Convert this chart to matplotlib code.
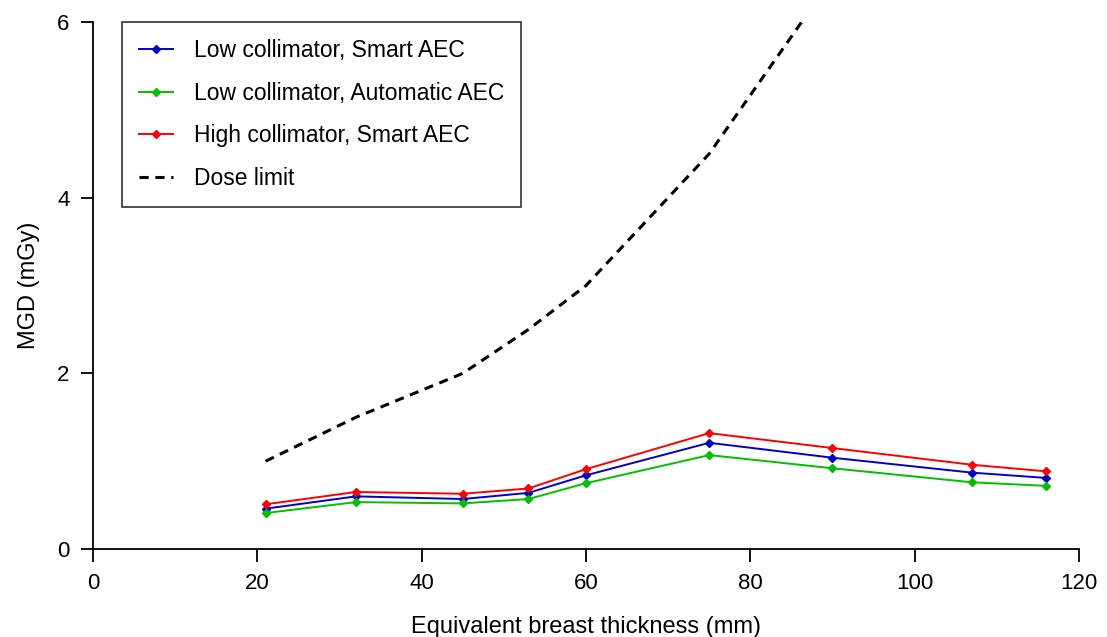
import matplotlib
matplotlib.use("Agg")
import matplotlib.pyplot as plt

plt.rcParams['font.family'] = ['Liberation Sans', 'DejaVu Sans']

# breast thickness (mm)
thickness = [21, 32, 45, 53, 60, 75, 90, 107, 116]
low_smart = [0.46, 0.60, 0.57, 0.64, 0.84, 1.21, 1.04, 0.87, 0.81]
low_auto = [0.41, 0.535, 0.52, 0.57, 0.75, 1.07, 0.92, 0.76, 0.72]
high_smart = [0.51, 0.65, 0.63, 0.69, 0.91, 1.32, 1.15, 0.96, 0.885]

limit_thickness = [21, 32, 45, 53, 60, 75, 90]
dose_limit = [1.0, 1.5, 2.0, 2.5, 3.0, 4.5, 6.5]

fig = plt.figure(figsize=(11.07, 6.37), dpi=100)
ax = fig.add_axes([0.084, 0.138, 0.8907, 0.8275])

mk = dict(marker='D', markersize=4.5, linewidth=1.4)
ax.plot(thickness, low_smart, color='#0000cc', label='Low collimator, Smart AEC', **mk)
ax.plot(thickness, low_auto, color='#00c000', label='Low collimator, Automatic AEC', **mk)
ax.plot(thickness, high_smart, color='#ff0000', label='High collimator, Smart AEC', **mk)
ax.plot(limit_thickness, dose_limit, color='black', linestyle=(0, (3.0, 2.2)),
        linewidth=2.2, label='Dose limit')

ax.set_xlim(0, 120)
ax.set_ylim(0, 6)
ax.set_xticks(range(0, 121, 20))
ax.set_yticks([0, 2, 4, 6])
for s in ['top', 'right']:
    ax.spines[s].set_visible(False)
for s in ['left', 'bottom']:
    ax.spines[s].set_linewidth(1.3)
ax.tick_params(direction='out', length=9, width=1.3, labelsize=16, pad=8)

ax.set_xlabel('Equivalent breast thickness (mm)', fontsize=17, labelpad=16)
ax.set_ylabel('MGD (mGy)', fontsize=17, labelpad=12)

leg = ax.legend(loc='upper left', bbox_to_anchor=(0.029, 1.0), fontsize=16.5,
                frameon=True, fancybox=False, edgecolor='black', borderpad=0.75,
                handlelength=1.5, handletextpad=0.9, labelspacing=0.85,
                borderaxespad=0.0)
leg.get_frame().set_linewidth(1.2)

fig.savefig('out.png', dpi=100)
